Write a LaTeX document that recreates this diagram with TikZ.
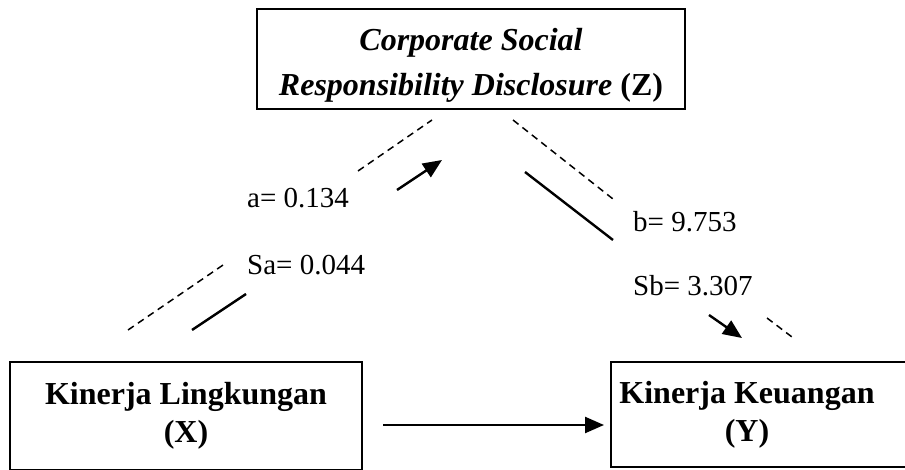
\documentclass[tikz,border=0pt]{standalone}
\usepackage{fontspec}
\setmainfont{Liberation Serif}
\usetikzlibrary{arrows.meta}
\begin{document}
\begin{tikzpicture}[x=1pt,y=-1pt,
  boxstyle/.style={draw,line width=1.8pt,inner sep=0pt},
  boxtext/.style={font=\fontsize{32}{38}\selectfont\bfseries,align=center,inner sep=0pt},
  lbl/.style={font=\fontsize{29}{34}\selectfont,inner sep=0pt},
  dashline/.style={line width=1.5pt,dash pattern=on 7pt off 5pt},
  solidline/.style={line width=2.4pt},
  arr/.style={line width=2.4pt,-{Triangle[length=19pt,width=16pt]}}
]
\useasboundingbox (0,0) rectangle (905,470);
\clip (0,0) rectangle (905,470);
\fill[white] (0,0) rectangle (905,470);
% boxes
\node[boxstyle,minimum width=428pt,minimum height=100pt] (zbox) at (471,59) {};
\node[boxtext,font=\fontsize{32}{45}\selectfont\bfseries] (ztext) at (471,65) {\textit{Corporate Social}\\\textit{Responsibility Disclosure} (Z)};
\node[boxstyle,minimum width=352pt,minimum height=108pt] (xbox) at (186,416) {};
\node[boxtext] (xtext) at (186,416) {Kinerja Lingkungan\\(X)};
\node[boxstyle,minimum width=300pt,minimum height=105pt] (ybox) at (761,414.5) {};
\node[boxtext] (ytext) at (747,415) {Kinerja Keuangan\\(Y)};
% labels
\node[lbl,anchor=base west] (la) at (247,208) {a= 0.134};
\node[lbl,anchor=base west] (lsa) at (247,275) {Sa= 0.044};
\node[lbl,anchor=base west] (lb) at (633,232) {b= 9.753};
\node[lbl,anchor=base west] (lsb) at (633,296) {Sb= 3.307};
% coordinates
\coordinate (d1s) at (358,171); \coordinate (d1e) at (432,120);
\coordinate (a1s) at (397,190); \coordinate (a1e) at (442,160);
\coordinate (d2s) at (128,330); \coordinate (d2e) at (226,263);
\coordinate (s2s) at (192,330); \coordinate (s2e) at (246,294);
\coordinate (d3s) at (513,120); \coordinate (d3e) at (613,199);
\coordinate (s3s) at (525,172); \coordinate (s3e) at (613,240);
\coordinate (a4s) at (709,315); \coordinate (a4e) at (742,338);
\coordinate (d4s) at (767,318); \coordinate (d4e) at (792,337);
\coordinate (hs) at (383,425); \coordinate (he) at (604,425);
\draw[dashline] (d1s) -- (d1e);
\draw[arr] (a1s) -- (a1e);
\draw[dashline] (d2s) -- (d2e);
\draw[solidline] (s2s) -- (s2e);
\draw[dashline] (d3s) -- (d3e);
\draw[solidline] (s3s) -- (s3e);
\draw[arr] (a4s) -- (a4e);
\draw[dashline] (d4s) -- (d4e);
\draw[arr] (hs) -- (he);
\end{tikzpicture}
\end{document}
